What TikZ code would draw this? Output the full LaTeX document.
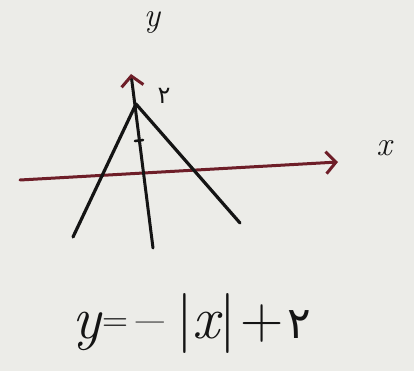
\documentclass[tikz,border=0pt]{standalone}
\usepackage{fontspec}
\newfontfamily\arabicfont[Script=Arabic]{DejaVu Sans}
\usetikzlibrary{arrows.meta}
\definecolor{paper}{RGB}{236,236,232}
\definecolor{axisred}{RGB}{110,30,40}
\definecolor{ink}{RGB}{20,20,20}
\tikzset{
  pen/.style={draw=ink, line width=3.2pt, line cap=round, line join=round},
  axisx/.style={draw=axisred, line width=3pt, line cap=round, -{Straight Barb[length=10pt,width=22pt,line width=3pt]}},
  axisy/.style={draw=ink, line width=3pt, line cap=round, -{Straight Barb[length=10pt,width=22pt,line width=3pt,color=axisred]}},
  lab/.style={text=ink, inner sep=0pt, font=\fontsize{34}{34}\selectfont},
}
\begin{document}
\begin{tikzpicture}[x=1pt,y=-1pt]
\fill[paper] (0,0) rectangle (414,371);
\useasboundingbox (0,0) rectangle (414,371);
% axes
\coordinate (xs) at (20,180);
\coordinate (xe) at (338,162);
\coordinate (ys) at (153,248);
\coordinate (ye) at (131,74);
\draw[axisx] (xs) -- (xe);
\draw[axisy] (ys) -- (ye);
% V graph
\coordinate (v) at (136,104);
\coordinate (l) at (73,237);
\coordinate (r) at (240,223);
\draw[pen] (l) -- (v) -- (r);
% tick
\coordinate (t1) at (135,141);
\coordinate (t2) at (143,140);
\draw[pen, line width=2.6pt] (t1) -- (t2);
% labels
\node[lab] (ylab) at (152,22) {\itshape y};
\node[lab] (xlab) at (384,148) {\itshape x};
\node[lab, font=\arabicfont\fontsize{24}{24}\selectfont] (two) at (164,96) {۲};
\node[lab, font=\fontsize{60}{60}\selectfont, anchor=base west] (eq) at (72,338) {{\itshape y}\kern2pt\raisebox{7pt}{\fontsize{36}{36}\selectfont =}\kern8pt--\kern12pt|{\itshape x}|\kern4pt+\kern4pt{\arabicfont\fontsize{44}{44}\selectfont ۲}};
\end{tikzpicture}
\end{document}
